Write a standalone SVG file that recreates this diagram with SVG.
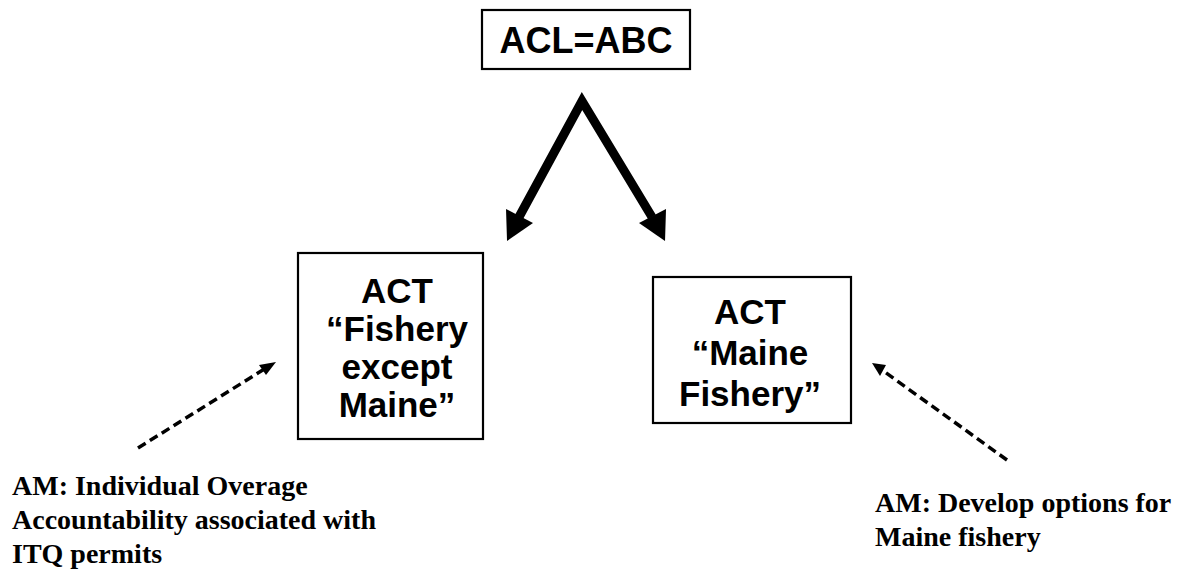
<svg xmlns="http://www.w3.org/2000/svg" width="1189" height="570" viewBox="0 0 1189 570">
<style>
.box{fill:#fff;stroke:#000;stroke-width:2.2}
.bt{font-family:"Liberation Sans",Arial,sans-serif;font-weight:bold;font-size:35px;text-anchor:middle;fill:#000}
.am{font-family:"Liberation Serif","Times New Roman",serif;font-weight:bold;font-size:28px;fill:#000}
.dash{fill:none;stroke:#000;stroke-width:3.5;stroke-dasharray:9 5}
</style>
<rect width="1189" height="570" fill="#fff"/>
<g id="acl">
<rect class="box" x="482" y="10" width="208" height="59"/>
<text class="bt" x="586" y="53" style="font-size:36px">ACL=ABC</text>
</g>
<g id="act-except">
<rect class="box" x="298" y="253" width="185" height="186"/>
<text class="bt" x="397" y="303">ACT</text>
<text class="bt" x="397" y="341">“Fishery</text>
<text class="bt" x="397" y="379">except</text>
<text class="bt" x="397" y="417">Maine”</text>
</g>
<g id="act-maine">
<rect class="box" x="653" y="277" width="198" height="146"/>
<text class="bt" x="750" y="324">ACT</text>
<text class="bt" x="750" y="365">“Maine</text>
<text class="bt" x="750" y="406">Fishery”</text>
</g>
<g id="am-left">
<text class="am" x="12" y="495">AM: Individual Overage</text>
<text class="am" x="12" y="529">Accountability associated with</text>
<text class="am" x="12" y="563">ITQ permits</text>
</g>
<g id="am-right">
<text class="am" x="875" y="512">AM: Develop options for</text>
<text class="am" x="875" y="546">Maine fishery</text>
</g>
<g id="connectors">
<polyline points="519,217 582,101 652,217" fill="none" stroke="#000" stroke-width="9" stroke-linejoin="miter" stroke-miterlimit="10"/>
<polygon points="507,241 506,209 533,223" fill="#000"/>
<polygon points="665,241 666,209 639,223" fill="#000"/>
<path class="dash" d="M138,448 L266,368"/>
<polygon points="276,362 259,365 266,375" fill="#000"/>
<path class="dash" d="M1007,460 L882,370"/>
<polygon points="872,363 886,365 880,376" fill="#000"/>
</g>
</svg>
